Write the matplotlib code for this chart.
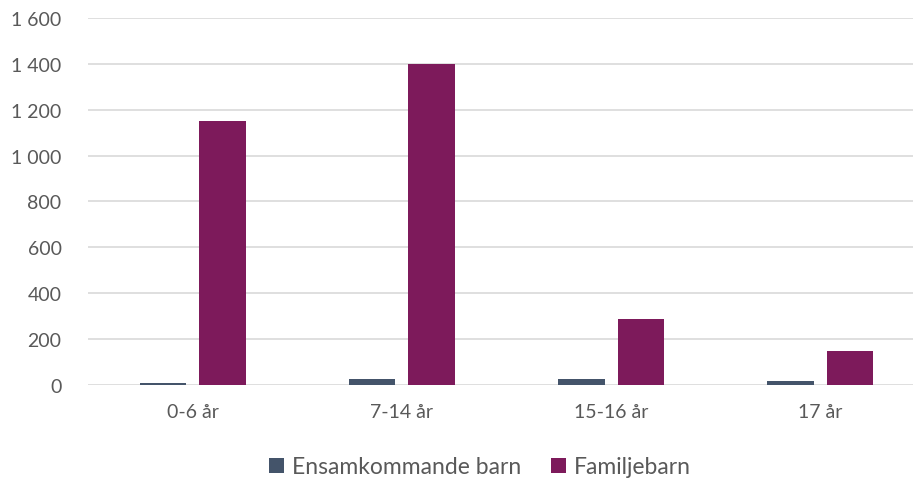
import matplotlib
matplotlib.use("Agg")
import matplotlib.pyplot as plt
import numpy as np
from matplotlib.ticker import FuncFormatter

categories = ["0-6 år", "7-14 år", "15-16 år", "17 år"]
ensamkommande = [8, 25, 25, 18]
familjebarn = [1150, 1400, 286, 148]

plt.rcParams['font.family'] = ['Lato', 'DejaVu Sans']

fig = plt.figure(figsize=(9.13, 4.85), dpi=100)
# plot area runs a bit past the right edge, like the original
ax = fig.add_axes([88 / 913, 1 - 385.7 / 485, 837 / 913, 366.7 / 485])

x = np.arange(len(categories))
w = 0.222
off = 0.142
ax.bar(x - off, ensamkommande, w, color="#44546A", label="Ensamkommande barn", zorder=3)
ax.bar(x + off, familjebarn, w, color="#7D1A5B", label="Familjebarn", zorder=3)

ax.set_xlim(-0.5, 3.5)
ax.set_ylim(0, 1600)
ax.set_yticks(np.arange(0, 1601, 200))
ax.yaxis.set_major_formatter(FuncFormatter(lambda v, p: "{:,}".format(int(v)).replace(",", " ")))
ax.set_xticks(x)
ax.set_xticklabels(categories)

ax.grid(axis="y", color="#D9D9D9", linewidth=1.2, zorder=0)
for s in ax.spines.values():
    s.set_visible(False)
ax.tick_params(axis="both", length=0, labelsize=14, labelcolor="#595959")
ax.tick_params(axis="y", pad=19)
ax.tick_params(axis="x", pad=13)

ax.legend(loc="center", bbox_to_anchor=(480 / 913, 1 - 468 / 485), bbox_transform=fig.transFigure,
          ncol=2, frameon=False, fontsize=16.5, labelcolor="#595959",
          handlelength=0.65, handleheight=0.65, handletextpad=0.35, columnspacing=1.3)

fig.savefig("out.png", dpi=100)
